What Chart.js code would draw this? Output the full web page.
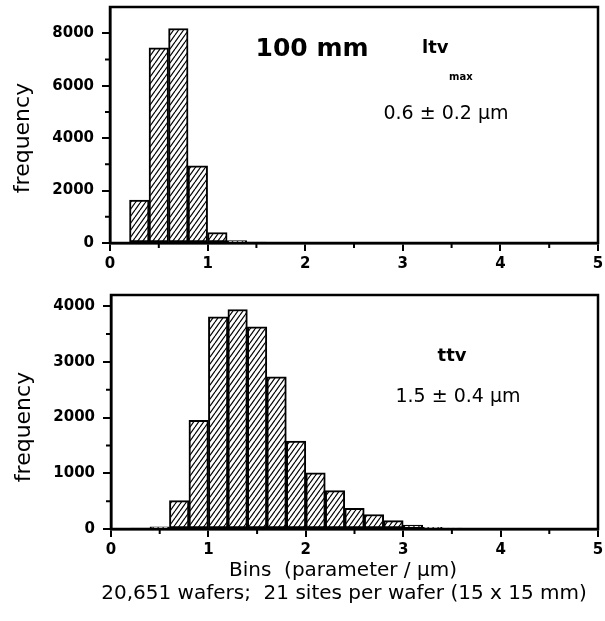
<!DOCTYPE html>
<html>
<head>
<meta charset="utf-8">
<script src="https://cdn.jsdelivr.net/npm/chart.js@4"></script>
<style>
  html, body { margin: 0; padding: 0; background: #fff; }
  #wrap { position: relative; width: 605px; height: 621px; }
  #topBox { position: absolute; left: 0; top: 0; width: 605px; height: 280px; }
  #botBox { position: absolute; left: 0; top: 280px; width: 605px; height: 341px; }
</style>
</head>
<body>
<div id="wrap">
  <div id="topBox"><canvas id="ltvChart"></canvas></div>
  <div id="botBox"><canvas id="ttvChart"></canvas></div>
</div>
<script>
// histogram bins (bin centres, 0.2 um wide) and frequencies
const ltvBins = [0.3, 0.5, 0.7, 0.9, 1.1, 1.3, 1.5];
const ltvFreq = [1640, 7440, 8180, 2940, 400, 90, 20];

const ttvBins = [0.3, 0.5, 0.7, 0.9, 1.1, 1.3, 1.5, 1.7, 1.9, 2.1, 2.3, 2.5, 2.7, 2.9, 3.1, 3.3, 3.5];
const ttvFreq = [10, 40, 510, 1950, 3810, 3940, 3630, 2730, 1580, 1010, 690, 370, 260, 150, 70, 30, 15];

const xTicks = [0, 1, 2, 3, 4, 5];
const xMinorTicks = [0.5, 1.5, 2.5, 3.5, 4.5];
const ltvTicks = [0, 2000, 4000, 6000, 8000];
const ltvMinorTicks = [1000, 3000, 5000, 7000];
const ttvTicks = [0, 1000, 2000, 3000, 4000];
const ttvMinorTicks = [500, 1500, 2500, 3500];

const FONT = "'DejaVu Sans', sans-serif";

// diagonal hatch fill like the printed bars
function makeHatch() {
    const w = 5, h = 7;
    const c = document.createElement('canvas');
    c.width = w; c.height = h;
    const g = c.getContext('2d');
    g.fillStyle = '#fff';
    g.fillRect(0, 0, w, h);
    g.strokeStyle = '#000';
    g.lineWidth = 1.2;
    for (let k = -1; k <= 1; k++) {
        g.beginPath();
        g.moveTo(k * w, h);
        g.lineTo(k * w + w, 0);
        g.stroke();
    }
    return g.createPattern(c, 'repeat');
}
const hatch = makeHatch();

// frame round the plot + short minor ticks
const framePlugin = {
    id: 'frame',
    afterDraw(chart, args, opts) {
        const ctx = chart.ctx;
        const a = chart.chartArea;
        const xs = chart.scales.x, ys = chart.scales.y;
        ctx.save();
        ctx.strokeStyle = '#000';
        ctx.lineWidth = 2.5;
        ctx.strokeRect(a.left, a.top, a.right - a.left, a.bottom - a.top);
        ctx.lineWidth = 2;
        ctx.beginPath();
        opts.xMinor.forEach(function (v) {
            const px = xs.getPixelForValue(v);
            ctx.moveTo(px, a.bottom);
            ctx.lineTo(px, a.bottom + 5);
        });
        opts.yMinor.forEach(function (v) {
            const py = ys.getPixelForValue(v);
            ctx.moveTo(a.left - 5, py);
            ctx.lineTo(a.left, py);
        });
        ctx.stroke();
        ctx.restore();
    }
};

// text labels placed on the figure
const notesPlugin = {
    id: 'notes',
    afterDraw(chart, args, opts) {
        const ctx = chart.ctx;
        ctx.save();
        ctx.fillStyle = '#000';
        opts.items.forEach(function (t) {
            ctx.font = t.font;
            ctx.textAlign = t.align || 'center';
            ctx.textBaseline = 'middle';
            if (t.rotate) {
                ctx.save();
                ctx.translate(t.x, t.y);
                ctx.rotate(-Math.PI / 2);
                ctx.fillText(t.text, 0, 0);
                ctx.restore();
            } else {
                ctx.fillText(t.text, t.x, t.y);
            }
        });
        ctx.restore();
    }
};

function histOptions(cfg) {
    return {
        responsive: false,
        animation: false,
        layout: { padding: { top: cfg.padTop, right: 7, left: 0, bottom: 0 } },
        plugins: {
            legend: { display: false },
            tooltip: { enabled: false },
            frame: { xMinor: xMinorTicks, yMinor: cfg.yMinor },
            notes: { items: cfg.notes }
        },
        scales: {
            x: {
                type: 'linear',
                min: 0,
                max: 5,
                offset: false,
                afterFit: function (s) {
                    s.height = cfg.xHeight;
                    s.paddingLeft = 0; s.paddingRight = 0;
                },
                afterBuildTicks: function (s) { s.ticks = xTicks.map(v => ({ value: v })); },
                border: { display: true, color: '#000', width: 2.5 },
                grid: { offset: false, drawOnChartArea: false, color: '#000', lineWidth: 2, tickLength: 8 },
                ticks: {
                    color: '#000', padding: 4, maxRotation: 0,
                    font: { family: FONT, size: 15, weight: 'bold' },
                    callback: v => String(v)
                }
            },
            y: {
                min: 0,
                max: cfg.yMax,
                afterFit: function (s) {
                    s.width = cfg.yWidth;
                    s.paddingTop = 0; s.paddingBottom = 0;
                },
                afterBuildTicks: function (s) { s.ticks = cfg.yTicks.map(v => ({ value: v })); },
                border: { display: true, color: '#000', width: 2.5 },
                grid: { drawOnChartArea: false, color: '#000', lineWidth: 2, tickLength: 8 },
                ticks: {
                    color: '#000', padding: 8,
                    font: { family: FONT, size: 15, weight: 'bold' },
                    callback: v => String(v)
                }
            }
        }
    };
}

function histData(bins, freq) {
    return {
        datasets: [{
            data: bins.map((b, i) => ({ x: b, y: freq[i] })),
            backgroundColor: hatch,
            borderColor: '#000',
            borderWidth: 2,
            borderSkipped: false,
            barPercentage: 1,
            categoryPercentage: 1
        }]
    };
}

const topCanvas = document.getElementById('ltvChart');
topCanvas.width = 605; topCanvas.height = 280;
new Chart(topCanvas, {
    type: 'bar',
    data: histData(ltvBins, ltvFreq),
    options: histOptions({
        padTop: 7, xHeight: 37, yWidth: 110, yMax: 9000,
        yTicks: ltvTicks, yMinor: ltvMinorTicks,
        notes: [
            { text: 'frequency', x: 23, y: 138, rotate: true, font: '22px ' + FONT },
            { text: '100 mm', x: 312, y: 49, font: 'bold 25px ' + FONT },
            { text: 'ltv', x: 422, y: 48, align: 'left', font: 'bold 18px ' + FONT },
            { text: 'max', x: 449, y: 77, align: 'left', font: 'bold 10px ' + FONT },
            { text: '0.6 \u00b1 0.2 \u00b5m', x: 446, y: 114, font: '19px ' + FONT }
        ]
    }),
    plugins: [framePlugin, notesPlugin]
});

const botCanvas = document.getElementById('ttvChart');
botCanvas.width = 605; botCanvas.height = 341;
new Chart(botCanvas, {
    type: 'bar',
    data: histData(ttvBins, ttvFreq),
    options: histOptions({
        padTop: 15, xHeight: 92, yWidth: 111, yMax: 4200,
        yTicks: ttvTicks, yMinor: ttvMinorTicks,
        notes: [
            { text: 'frequency', x: 24, y: 147, rotate: true, font: '22px ' + FONT },
            { text: 'ttv', x: 452, y: 76, font: 'bold 18px ' + FONT },
            { text: '1.5 \u00b1 0.4 \u00b5m', x: 458, y: 117, font: '19px ' + FONT },
            { text: 'Bins  (parameter / \u00b5m)', x: 343, y: 291, font: '20px ' + FONT },
            { text: '20,651 wafers;  21 sites per wafer (15 x 15 mm)', x: 344, y: 314, font: '20px ' + FONT }
        ]
    }),
    plugins: [framePlugin, notesPlugin]
});
</script>
</body>
</html>
